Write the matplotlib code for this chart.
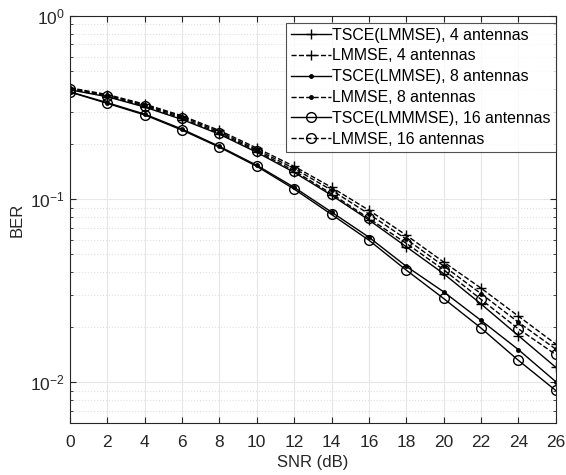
import matplotlib
matplotlib.use("Agg")
import matplotlib.pyplot as plt
from matplotlib.ticker import LogLocator, NullFormatter

plt.rcParams['font.family'] = ['Liberation Sans', 'DejaVu Sans']

# BER vs SNR results
snr = [0, 2, 4, 6, 8, 10, 12, 14, 16, 18, 20, 22, 24, 26]
tsce_4 = [0.395, 0.362, 0.318, 0.272, 0.226, 0.180, 0.140, 0.105, 0.077, 0.055,
          0.0392, 0.0268, 0.0180, 0.0121]
lmmse_4 = [0.405, 0.372, 0.330, 0.285, 0.237, 0.190, 0.151, 0.116, 0.087, 0.0636,
           0.0454, 0.0327, 0.0230, 0.0162]
tsce_8 = [0.385, 0.336, 0.291, 0.241, 0.194, 0.153, 0.116, 0.085, 0.062, 0.043,
          0.0312, 0.0218, 0.0151, 0.0101]
lmmse_8 = [0.402, 0.369, 0.326, 0.281, 0.233, 0.186, 0.147, 0.112, 0.083, 0.0605,
           0.0432, 0.0305, 0.0213, 0.0152]
tsce_16 = [0.384, 0.333, 0.288, 0.238, 0.192, 0.151, 0.1135, 0.0825, 0.0597, 0.041,
           0.0287, 0.0198, 0.0132, 0.00904]
lmmse_16 = [0.397, 0.365, 0.322, 0.276, 0.229, 0.183, 0.1428, 0.107, 0.0785, 0.0574,
            0.0412, 0.0284, 0.0196, 0.0142]

fig = plt.figure(figsize=(5.66, 4.75), dpi=100)
ax = fig.add_axes([0.1237, 0.1095, 0.858, 0.857])

ax.semilogy(snr, tsce_4, 'k-', marker='+', ms=7, lw=1, label='TSCE(LMMSE), 4 antennas')
ax.semilogy(snr, lmmse_4, 'k--', marker='+', ms=7, lw=1, label='LMMSE, 4 antennas')
ax.semilogy(snr, tsce_8, 'k-', marker='.', ms=5, lw=1, label='TSCE(LMMSE), 8 antennas')
ax.semilogy(snr, lmmse_8, 'k--', marker='.', ms=5, lw=1, label='LMMSE, 8 antennas')
ax.semilogy(snr, tsce_16, 'k-', marker='o', ms=7, mfc='none', lw=1,
            label='TSCE(LMMMSE), 16 antennas')
ax.semilogy(snr, lmmse_16, 'k--', marker='o', ms=7, mfc='none', lw=1,
            label='LMMSE, 16 antennas')

ax.set_xlim(0, 26)
ax.set_ylim(0.006, 1)
ax.set_xticks(range(0, 27, 2))
ax.yaxis.set_major_locator(LogLocator(base=10, numticks=10))
ax.yaxis.set_minor_locator(LogLocator(base=10, subs=range(2, 10), numticks=20))
ax.yaxis.set_minor_formatter(NullFormatter())

ax.grid(True, which='major', color='#e6e6e6', lw=0.8)
ax.grid(True, which='minor', axis='y', color='#e0e0e0', ls=':', lw=0.8)
ax.tick_params(which='both', direction='in', top=True, right=True,
               colors='#262626', labelsize=12.5)
ax.tick_params(which='major', length=4)
ax.tick_params(axis='x', pad=9)
ax.tick_params(which='minor', length=2.5)
for s in ax.spines.values():
    s.set_color('#262626')
    s.set_linewidth(0.8)

ax.set_xlabel('SNR (dB)', fontsize=12, color='#262626', labelpad=3)
ax.set_ylabel('BER', fontsize=12, color='#262626', labelpad=4)

leg = ax.legend(loc='upper right', bbox_to_anchor=(1.0, 0.983), fontsize=11.4,
                frameon=True, fancybox=False, edgecolor='#262626',
                handlelength=2.5, handletextpad=0.1, borderpad=0.3,
                labelspacing=0.37, borderaxespad=0)
leg.get_frame().set_linewidth(0.8)

fig.savefig("out.png", dpi=100)
